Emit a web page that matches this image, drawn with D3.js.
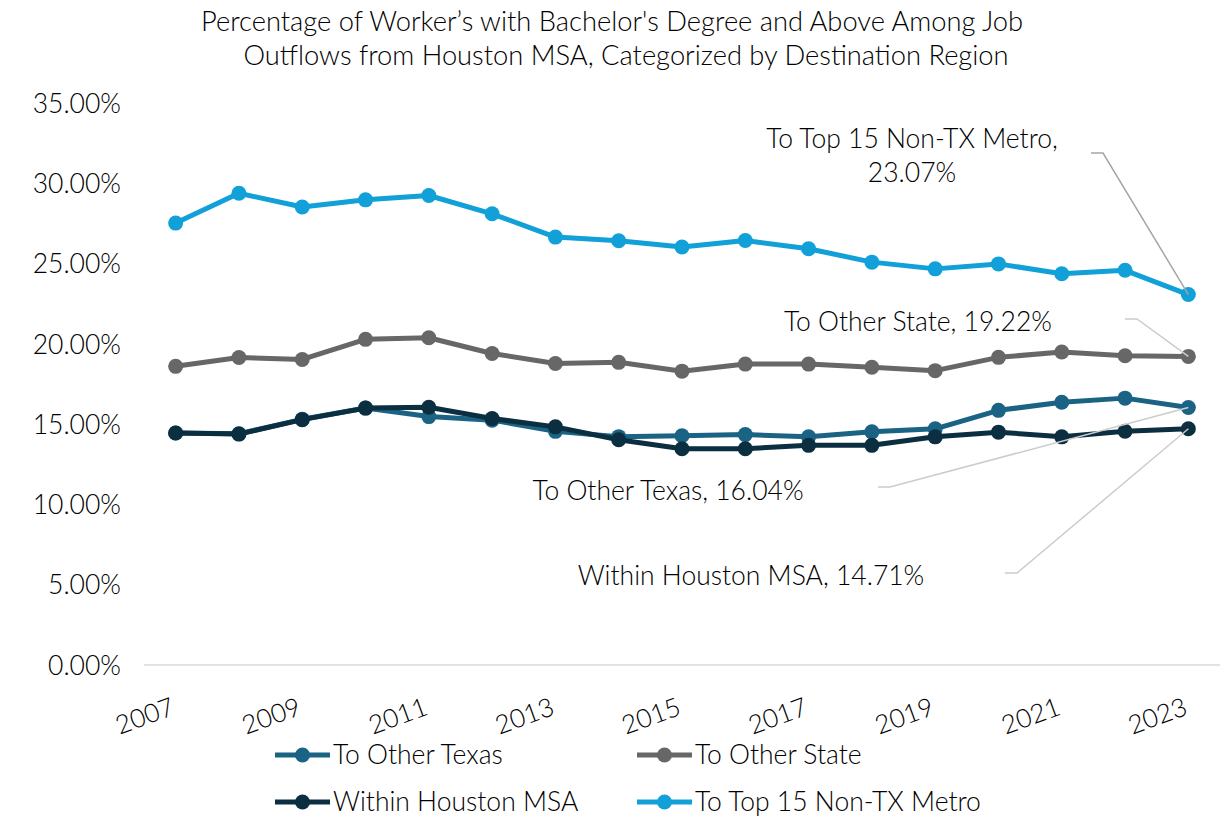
<!DOCTYPE html>
<html><head><meta charset="utf-8">
<script src="https://cdn.jsdelivr.net/npm/d3@7"></script>
<style>
html,body{margin:0;padding:0;background:#fff;}
text{font-family:Lato,"Open Sans",sans-serif;fill:#000;font-weight:300;}
</style></head>
<body>
<svg id="chart" width="1222" height="820"></svg>
<script>
const years = [2007,2008,2009,2010,2011,2012,2013,2014,2015,2016,2017,2018,2019,2020,2021,2022,2023];
const xTickLabels = [2007,2009,2011,2013,2015,2017,2019,2021,2023];
const yTicks = [0,5,10,15,20,25,30,35];
const seriesNames = ["To Other Texas","To Other State","Within Houston MSA","To Top 15 Non-TX Metro"];
const otherTexas = [14.45,14.4,15.3,16.0,15.47,15.25,14.55,14.22,14.28,14.35,14.21,14.52,14.71,15.86,16.36,16.62,16.04];
const otherState = [18.6,19.15,19.03,20.28,20.38,19.4,18.78,18.85,18.3,18.74,18.74,18.54,18.33,19.16,19.49,19.26,19.22];
const withinHouston = [14.45,14.38,15.28,16.0,16.05,15.35,14.83,14.03,13.47,13.47,13.68,13.68,14.21,14.5,14.21,14.56,14.71];
const top15 = [27.52,29.38,28.52,28.97,29.24,28.1,26.65,26.42,26.03,26.44,25.92,25.09,24.67,24.98,24.37,24.58,23.07];
const colors = ["#1a6385","#676767","#0b2e40","#12a0d8"];

const FS = "26.5px";
const svg = d3.select("#chart");
const x = d3.scalePoint().domain(years).range([144,1220]).padding(0.5);
const y = d3.scaleLinear().domain([0,35]).range([665,103]);

// title
const title = svg.append("text").attr("text-anchor","middle").style("font-size","27.3px");
title.append("tspan").attr("x",612).attr("y",31).text("Percentage of Worker\u2019s with Bachelor's Degree and Above Among Job");
title.append("tspan").attr("x",626).attr("y",65).text("Outflows from Houston MSA, Categorized by Destination Region");

// y axis (labels only)
const yAxis = d3.axisLeft(y).tickValues(yTicks).tickFormat(d => d.toFixed(2) + "%").tickSize(0).tickPadding(0);
const yg = svg.append("g").attr("transform","translate(121,0)").call(yAxis);
yg.select(".domain").remove();
yg.selectAll("text").style("font-size",FS).attr("fill","#000").attr("dy","0.35em")
  .style("font-family","Lato,sans-serif").style("font-weight","300");

// x axis baseline
svg.append("line").attr("x1",144).attr("x2",1220).attr("y1",y(0)).attr("y2",y(0))
  .attr("stroke","#d9d9d9").attr("stroke-width",1.5);

// x axis labels
const xAxis = d3.axisBottom(x).tickValues(xTickLabels).tickSize(0).tickPadding(0);
const xg = svg.append("g").attr("transform","translate(0,714)").call(xAxis);
xg.select(".domain").remove();
xg.selectAll("text").style("font-size","26px").style("font-family","Lato,sans-serif").style("font-weight","300")
  .attr("fill","#000").attr("text-anchor","end").attr("y",0).attr("dy",0)
  .attr("transform","translate(0,0) rotate(-20)");

// series
const data = [otherTexas, otherState, withinHouston, top15];
const line = d3.line().x((d,i)=>x(years[i])).y(d=>y(d));
data.forEach((vals,k)=>{
  const g = svg.append("g");
  g.append("path").datum(vals).attr("d",line).attr("fill","none")
    .attr("stroke",colors[k]).attr("stroke-width",5).attr("stroke-linejoin","round");
  g.selectAll("circle").data(vals).join("circle")
    .attr("cx",(d,i)=>x(years[i])).attr("cy",d=>y(d)).attr("r",7.5).attr("fill",colors[k]);
});

// annotations
const last = years.length-1;
const annots = [
  {k:3, lines:["To Top 15 Non-TX Metro,","23.07%"], tx:912, ty:[148,182], lx:1091, ly:153, color:"#a5a5a5"},
  {k:1, lines:["To Other State, 19.22%"], tx:918, ty:[331], lx:1125, ly:319, color:"#cccccc"},
  {k:0, lines:["To Other Texas, 16.04%"], tx:668, ty:[500], lx:878, ly:487, color:"#cccccc"},
  {k:2, lines:["Within Houston MSA, 14.71%"], tx:751, ty:[585], lx:1005, ly:573, color:"#cccccc"}
];
annots.forEach(a=>{
  const px = x(years[last]), py = y(data[a.k][last]);
  svg.append("polyline").attr("points",[[a.lx,a.ly],[a.lx+12,a.ly],[px,py]].map(p=>p.join(",")).join(" "))
    .attr("fill","none").attr("stroke",a.color).attr("stroke-width",1.5);
  const t = svg.append("text").attr("text-anchor","middle").style("font-size",FS);
  a.lines.forEach((s,i)=>t.append("tspan").attr("x",a.tx).attr("y",a.ty[i]).text(s));
});

// legend
const legendPos = [[275,755],[637,755],[275,802],[637,802]];
seriesNames.forEach((name,k)=>{
  const [lx,ly] = legendPos[k];
  const g = svg.append("g").attr("transform","translate("+lx+","+ly+")");
  g.append("line").attr("x1",0).attr("x2",55).attr("y1",0).attr("y2",0).attr("stroke",colors[k]).attr("stroke-width",5);
  g.append("circle").attr("cx",27.5).attr("cy",0).attr("r",7.5).attr("fill",colors[k]);
  g.append("text").attr("x",58).attr("y",0).attr("dy","0.35em").style("font-size",FS).text(name);
});
</script>
</body></html>
